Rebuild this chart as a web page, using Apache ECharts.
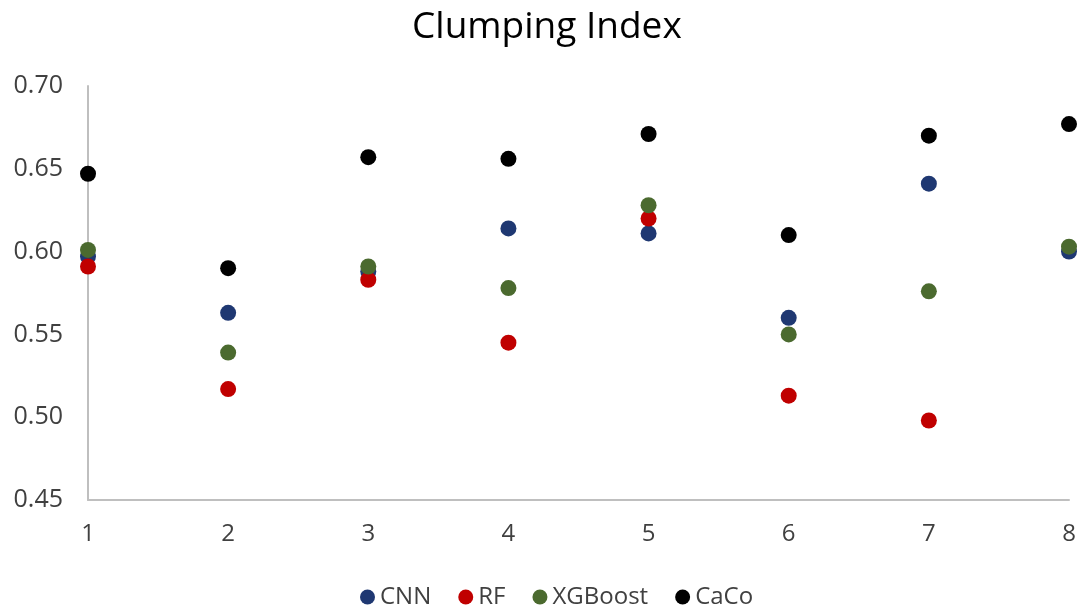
<!DOCTYPE html>
<html>
<head>
<meta charset="utf-8">
<script src="https://cdn.jsdelivr.net/npm/echarts@6/dist/echarts.min.js"></script>
<style>
html,body{margin:0;padding:0;background:#fff;}
#c{width:1082px;height:616px;}
</style>
</head>
<body>
<div id="c"></div>
<script>
const categories = [1, 2, 3, 4, 5, 6, 7, 8];
const cnn     = [0.597, 0.563, 0.588, 0.614, 0.611, 0.560, 0.641, 0.600];
const rf      = [0.591, 0.517, 0.583, 0.545, 0.620, 0.513, 0.498, null];
const xgboost = [0.601, 0.539, 0.591, 0.578, 0.628, 0.550, 0.576, 0.603];
const caco    = [0.647, 0.590, 0.657, 0.656, 0.671, 0.610, 0.670, 0.677];
const yTicks  = [0.45, 0.50, 0.55, 0.60, 0.65, 0.70];

const font = "'Open Sans', 'Noto Sans', sans-serif";
function pairs(arr){ return categories.map((c,i)=>[c, arr[i]]).filter(p=>p[1]!=null); }

const chart = echarts.init(document.getElementById('c'));
chart.setOption({
  animation:false,
  backgroundColor:'#fff',
  title:{ text:'Clumping Index', left:407, top:4,
    textStyle:{ fontFamily:font, fontSize:37, fontWeight:'normal', color:'#000' } },
  legend:{ bottom:2, left:355, icon:'circle', itemWidth:15, itemHeight:15, itemGap:27,
    textStyle:{ fontFamily:font, fontSize:24, color:'#404040' },
    data:['CNN','RF','XGBoost','CaCo'] },
  grid:{ left:88, right:13, top:86, bottom:116, containLabel:false },
  xAxis:{ type:'value', min:1, max:8, interval:1,
    axisLine:{ show:true, onZero:false, lineStyle:{ color:'#BFBFBF', width:2 } },
    axisTick:{ show:false }, splitLine:{ show:false },
    axisLabel:{ fontFamily:font, fontSize:24, color:'#404040', margin:22 } },
  yAxis:{ type:'value', min:yTicks[0], max:yTicks[yTicks.length-1], interval:0.05,
    axisLine:{ show:true, lineStyle:{ color:'#BFBFBF', width:2 } },
    axisTick:{ show:false }, splitLine:{ show:false },
    axisLabel:{ fontFamily:font, fontSize:25, color:'#404040', margin:25,
      formatter:v=>v.toFixed(2) } },
  series:[
    { name:'CNN', type:'scatter', symbolSize:16, data:pairs(cnn), itemStyle:{ color:'#1F3872', opacity:1 } },
    { name:'RF', type:'scatter', symbolSize:16, data:pairs(rf), itemStyle:{ color:'#C00000', opacity:1 } },
    { name:'XGBoost', type:'scatter', symbolSize:16, data:pairs(xgboost), itemStyle:{ color:'#4B6A2F', opacity:1 } },
    { name:'CaCo', type:'scatter', symbolSize:16, data:pairs(caco), itemStyle:{ color:'#000000', opacity:1 } }
  ]
});
</script>
</body>
</html>
